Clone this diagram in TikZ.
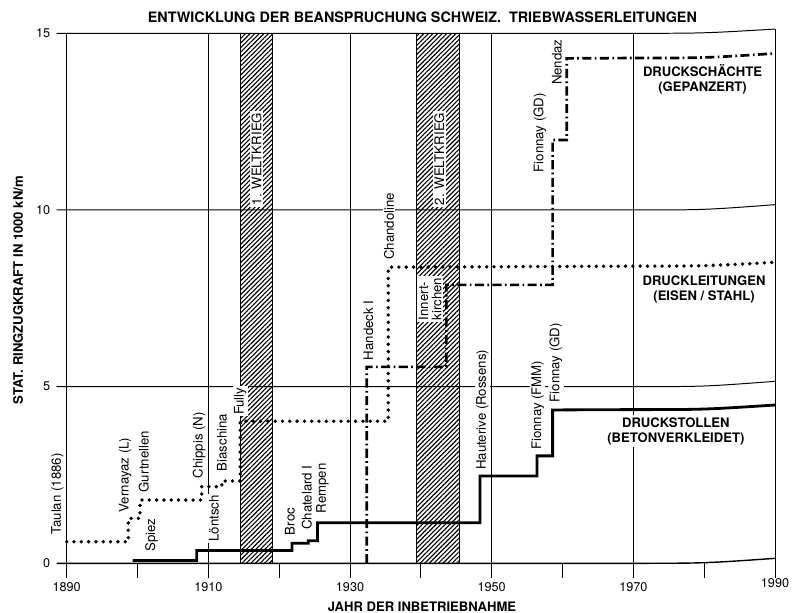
\documentclass[tikz,border=0pt]{standalone}
\usepackage{fontspec}
\setmainfont{TeX Gyre Heros}
\usetikzlibrary{patterns.meta}
\usetikzlibrary{positioning}

\newcommand{\evtfont}{\fontsize{9.4}{9.4}\selectfont}
\newcommand{\tickfont}{\fontsize{9}{11}\selectfont}
\newcommand{\boldfont}{\fontsize{9.3}{10.6}\selectfont\bfseries}

\tikzset{
  gridline/.style={line width=0.7pt},
  axisline/.style={line width=1pt},
  leitung/.style={line width=2.7pt, line cap=round, dash pattern=on 0pt off 5.2pt},
  stollen/.style={line width=2pt},
  schacht/.style={line width=1.9pt, dash pattern=on 6.5pt off 2.4pt on 1.2pt off 2.4pt},
  evt/.style={rotate=90, anchor=west, fill=white, inner sep=1pt, align=left, font=\evtfont},
  serie/.style={fill=white, inner sep=1.5pt, align=center, font=\boldfont},
  krieg/.style={draw, line width=0.8pt, pattern={Lines[angle=45, distance=2.3pt, line width=0.8pt]}},
}

\begin{document}
\begin{tikzpicture}
  \useasboundingbox (0,0) rectangle (20,15.325);

  \node[font=\fontsize{10.2}{12}\selectfont\bfseries] (titel) at (10.56,14.9) {ENTWICKLUNG DER BEANSPRUCHUNG SCHWEIZ.\ \ TRIEBWASSERLEITUNGEN};
  \node[font=\boldfont] (xlabel) at (10.55,0.15) {JAHR DER INBETRIEBNAHME};
  \node[font=\boldfont, rotate=90] (ylabel) at (0.45,8.07) {STAT. RINGZUGKRAFT IN 1000 kN/m};

  \begin{scope}[x=0.17708cm, y=0.88333cm, shift={(1.6675cm,1.2425cm)}]
    % Kriegsjahre
    \draw[krieg] (24.5,0) rectangle (29.05,15);
    \draw[krieg] (49.4,0) rectangle (55.5,15);

    % Raster
    \foreach \w in {5,10}
      \draw[gridline] (-1.41,\w) -- (80,\w) .. controls (90,\w) .. (100,\w+0.15);
    \draw[gridline] (-1.41,15) -- (80,15) .. controls (90,15) .. (100,15.12);
    \foreach \j in {20,40,60,80}
      \draw[gridline] (\j,-0.42) -- (\j,15);
    \foreach \j in {10,30,50,70,90}
      \draw[gridline] (\j,-0.42) -- (\j,0);
    \draw[axisline] (0,-0.42) -- (0,15);
    \draw[gridline] (100,-0.42) -- (100,15.12);
    \draw[axisline] (-1.41,0) -- (80,0) .. controls (90,0) .. (100,0.14);

    \foreach \w in {0,5,10,15}
      \node[anchor=east, inner sep=0pt, font=\tickfont] (w\w) at (-2.3,\w) {\w};
    \foreach \j/\jahr in {0/1890,20/1910,40/1930,60/1950,80/1970}
      \node[font=\tickfont] (j\jahr) at (\j,-0.67) {\jahr};
    \node[font=\tickfont] (j1990) at (100,-0.55) {1990};

    % Druckleitungen
    \draw[leitung] (0,0.61) -- (8.7,0.61) -- (8.7,1.27) -- (10.35,1.27) -- (10.35,1.79)
      -- (19.06,1.79) -- (19.06,2.17) -- (21.9,2.17) -- (21.9,2.33) -- (24.5,2.33)
      -- (24.5,4.02) -- (45.4,4.02) -- (45.4,8.38) -- (80,8.41) .. controls (90,8.41) .. (100,8.52);

    % Druckstollen
    \draw[stollen] (9.3,0.08) -- (18.35,0.08) -- (18.35,0.36) -- (31.8,0.36) -- (31.8,0.57)
      -- (34.1,0.57) -- (34.1,0.64) -- (35.4,0.64) -- (35.4,1.15) -- (58.35,1.15)
      -- (58.35,2.47) -- (66.4,2.47) -- (66.4,3.04) -- (68.6,3.04) -- (68.6,4.34)
      -- (80,4.35) .. controls (90,4.35) .. (100,4.48);

    % Druckschaechte
    \draw[schacht] (42.35,0) -- (42.35,5.56) -- (53.6,5.56) -- (53.6,7.88) -- (68.6,7.88)
      -- (68.6,11.98) -- (70.6,11.98) -- (70.6,14.29) -- (80,14.3) .. controls (90,14.3) .. (100,14.43);

    % Anlagen
    \node[evt] (taulan) at (-1.3,0.77) {Taulan (1886)};
    \node[evt] (vernayaz) at (8.25,1.4) {Vernayaz (L)};
    \node[evt] (gurtnellen) at (10.9,1.96) {Gurtnellen};
    \node[evt] (spiez) at (12.0,0.28) {Spiez};
    \node[evt] (chippis) at (18.7,2.36) {Chippis (N)};
    \node[evt] (loentsch) at (20.8,0.57) {Löntsch};
    \node[evt] (biaschina) at (21.9,2.56) {Biaschina};
    \node[evt] (fully) at (24.5,4.15) {Fully};
    \node[evt] (broc) at (31.5,0.75) {Broc};
    \node[evt] (chatelard) at (33.9,0.9) {Chatelard I};
    \node[evt] (rempen) at (36.1,1.37) {Rempen};
    \node[evt] (handeck) at (42.6,5.7) {Handeck I};
    \node[evt] (chandoline) at (45.5,8.54) {Chandoline};
    \node[evt] (innertkirchen) at (51.3,6.83) {Innert-\\kirchen};
    \node[evt] (hauterive) at (58.7,2.6) {Hauterive (Rossens)};
    \node[evt] (fionnayfmm) at (66.5,3.16) {Fionnay (FMM)};
    \node[evt] (fionnaygd) at (69.05,4.51) {Fionnay (GD)};
    \node[evt] (fionnaygdd) at (66.8,11.02) {Fionnay (GD)};
    \node[evt] (nendaz) at (69.2,13.49) {Nendaz};

    \node[evt, anchor=center] (krieg1) at (26.8,11.44) {1. WELTKRIEG};
    \node[evt, anchor=center] (krieg2) at (52.6,11.44) {2. WELTKRIEG};

    % Reihen
    \node[serie] (schaechte) at (89.77,13.69) {DRUCKSCHÄCHTE\\(GEPANZERT)};
    \node[serie] (leitungen) at (89.98,7.76) {DRUCKLEITUNGEN\\(EISEN / STAHL)};
    \node[serie] (stollenlab) at (86.0,3.74) {DRUCKSTOLLEN\\(BETONVERKLEIDET)};
  \end{scope}
\end{tikzpicture}
\end{document}
